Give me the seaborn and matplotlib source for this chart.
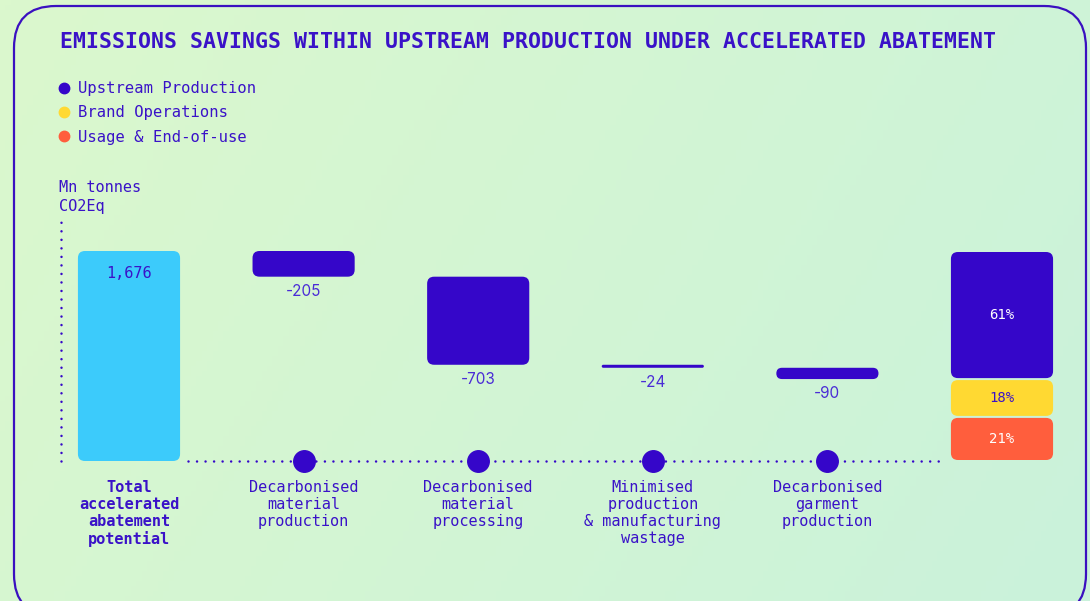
import matplotlib.pyplot as plt
import matplotlib.colors as mcolors
import numpy as np
import pandas as pd
import seaborn as sns
from matplotlib.lines import Line2D
from matplotlib.patches import FancyBboxPatch
from matplotlib.transforms import IdentityTransform

# Dados
stages = ["Total\naccelerated\nabatement\npotential",
          "Decarbonised\nmaterial\nproduction",
          "Decarbonised\nmaterial\nprocessing",
          "Minimised\nproduction\n& manufacturing\nwastage",
          "Decarbonised\ngarment\nproduction",
          "Split"]
total = 1676
savings = [-205, -703, -24, -90]
split_labels = ["Upstream Production", "Brand Operations", "Usage & End-of-use"]
split_shares = [61, 18, 21]

INK = "#3a12c8"
DARK = "#3506c9"
SKY = "#3ccbfb"
YELLOW = "#ffd932"
CORAL = "#ff5e3d"
split_colors = [DARK, YELLOW, CORAL]
split_text = ["white", INK, "white"]

sns.set_style("white")
plt.rcParams["font.family"] = ["DejaVu Sans Mono", "DejaVu Sans"]

W, H = 1090, 601
fig = plt.figure(figsize=(W / 100, H / 100), dpi=100)

# Fundo em degradê
bg = fig.add_axes([0, 0, 1, 1], zorder=-2)
xx, yy = np.meshgrid(np.linspace(0, 1, 200), np.linspace(0, 1, 120))
cmap = mcolors.LinearSegmentedColormap.from_list("bg", ["#dbf8cd", "#caf2db"])
bg.imshow(xx * 0.75 + yy * 0.25, cmap=cmap, aspect="auto", extent=[0, 1, 0, 1], origin="upper")
bg.axis("off")

ax = fig.add_axes([0, 0, 1, 1])
ax.set_facecolor("none")

# Cascata: barra total + reduções
running = total + np.cumsum([0] + savings)
wf = pd.DataFrame({"stage": stages[:5],
                   "height": [total] + [-s for s in savings],
                   "bottom": np.r_[0, running[1:]]})
BAR_W = 0.585
sns.barplot(data=wf, x="stage", y="height", order=stages, bottom=wf["bottom"].to_numpy(),
            width=BAR_W, color=DARK, saturation=1, errorbar=None, ax=ax)

# Barra empilhada final (de baixo para cima)
base = 0
for share, c in zip(split_shares[::-1], split_colors[::-1]):
    val = total * share / 100
    sns.barplot(x=[stages[5]], y=[val], order=stages, bottom=base, width=BAR_W,
                color=c, saturation=1, errorbar=None, ax=ax)
    base += val

k = 210 / total  # pixels por unidade
ax.set_xlim(-129 / 174.6, (W - 129) / 174.6)
ax.set_ylim(-(H - 461) / k, 461 / k)
ax.axis("off")

# Troca os retângulos por caixas arredondadas
bar_colors = [SKY] + [DARK] * len(savings) + split_colors[::-1]
n_wf = len(wf)
for i, (patch, c) in enumerate(zip(list(ax.patches), bar_colors)):
    bb = patch.get_window_extent()
    x0, y0, w, h = bb.x0, bb.y0, bb.width, bb.height
    if i >= n_wf:
        y0 += 1
        h -= 2
    r = min(7, h / 2, w / 2)
    patch.remove()
    ax.add_patch(FancyBboxPatch((x0, y0), w, h, boxstyle=f"round,pad=0,rounding_size={r}",
                                transform=IdentityTransform(), fc=c, ec="none", clip_on=False, zorder=2))

# Linhas pontilhadas e marcadores
dots = dict(color=DARK, lw=1.8, ls=(0, (0.01, 3.4)), dash_capstyle="round", zorder=1, clip_on=False)
ax.plot([BAR_W / 2 + 0.045, 5 - BAR_W / 2 - 0.03], [0, 0], **dots)
ax.plot([-0.39, -0.39], [0, total * 1.16], **dots)
ax.scatter(np.arange(1, len(savings) + 1), [0] * len(savings), s=240, color=DARK, zorder=3)

# Rótulos de valores
ax.annotate(f"{total:,}", (0, total), xytext=(0, -16), textcoords="offset points",
            ha="center", va="center", fontsize=11, color=INK)
for i, s in enumerate(savings, start=1):
    ax.annotate(f"{s}", (i, running[i]), xytext=(0, -5), textcoords="offset points",
                ha="center", va="top", fontsize=11, color="#4a2cd6", family="Inter")

base = total
for share, tc in zip(split_shares, split_text):
    val = total * share / 100
    ax.text(5, base - val / 2, f"{share}%", ha="center", va="center", fontsize=10, color=tc)
    base -= val

# Rótulos das categorias
for i, lab in enumerate(stages[:5]):
    ax.annotate(lab, (i, 0), xytext=(0, -13.5), textcoords="offset points", ha="center", va="top",
                fontsize=11, color=INK, linespacing=1.17, fontweight="bold" if i == 0 else "normal")

# Título, legenda e unidade
fig.text(60 / W, 1 - 42 / H, "EMISSIONS SAVINGS WITHIN UPSTREAM PRODUCTION UNDER ACCELERATED ABATEMENT",
         va="center", ha="left", fontsize=15.5, fontweight="bold", color=INK)
handles = [Line2D([], [], marker="o", ls="", ms=7.5, color=c) for c in split_colors]
ax.legend(handles, split_labels, loc="upper left", bbox_to_anchor=(59 / W, 1 - 81 / H),
          bbox_transform=fig.transFigure, frameon=False, fontsize=11.2, labelcolor=INK,
          handlelength=0.6, handletextpad=0.6, labelspacing=0.6, borderpad=0, borderaxespad=0)
fig.text(59 / W, 1 - 180 / H, "Mn tonnes\nCO2Eq", va="top", ha="left", fontsize=11,
         color=INK, linespacing=1.3)

# Moldura arredondada
fig.add_artist(FancyBboxPatch((14, -15), 1072, 610, boxstyle="round,pad=0,rounding_size=42",
                              transform=IdentityTransform(), fc="none", ec="#3a10c0", lw=1.6))

fig.savefig("out.png", dpi=100)
